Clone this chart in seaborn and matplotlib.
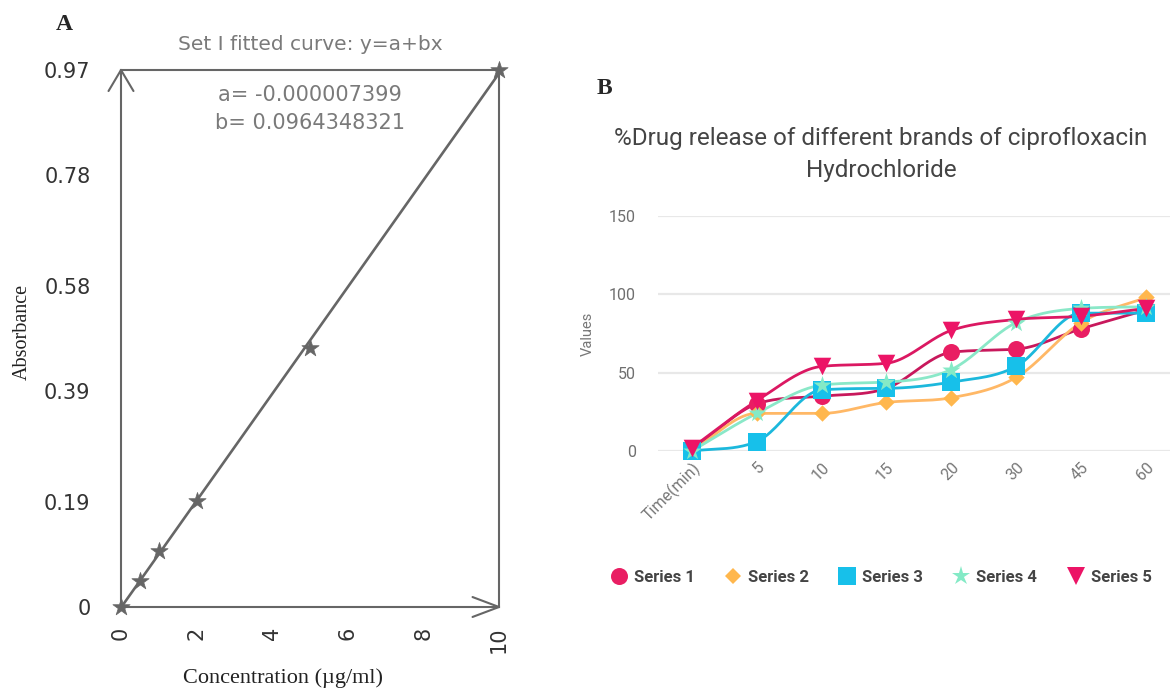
import numpy as np
import pandas as pd
import matplotlib
matplotlib.use("Agg")
import matplotlib.pyplot as plt
from matplotlib.lines import Line2D
import seaborn as sns

sns.set_theme(style="white")
plt.rcParams["font.family"] = ["DejaVu Sans"]

# ---- panel A: calibration curve ----
conc = [0, 0.5, 1, 2, 5, 10]
absorb = [0.0, 0.047, 0.102, 0.192, 0.468, 0.97]
y_ticks_a = [0, 0.19, 0.39, 0.58, 0.78, 0.97]
x_ticks_a = [0, 2, 4, 6, 8, 10]
fit_a = "-0.000007399"
fit_b = "0.0964348321"

# ---- panel B: drug release ----
times = ["Time(min)", "5", "10", "15", "20", "30", "45", "60"]
series1 = [0, 30, 35, 40, 63, 65, 78, 90]
series2 = [0, 24, 24, 31, 34, 47, 82, 98]
series3 = [0, 6, 39, 40, 44, 54, 88, 88]
series4 = [0, 24, 42, 44, 52, 82, 91, 92]
series5 = [2, 32, 54, 56, 77, 84, 86, 91]
series_names = ["Series 1", "Series 2", "Series 3", "Series 4", "Series 5"]

GRAY = "#666666"
TXT = "#7a7a7a"


def monotone(xs, ys, n=24):
    """Monotone cubic (Fritsch-Carlson) path through the points, for drawing only."""
    xs = np.asarray(xs, float)
    ys = np.asarray(ys, float)
    h = np.diff(xs)
    d = np.diff(ys) / h
    m = np.zeros_like(ys)
    m[0], m[-1] = d[0], d[-1]
    for k in range(1, len(xs) - 1):
        m[k] = 0 if d[k - 1] * d[k] <= 0 else (d[k - 1] + d[k]) / 2
    for k in range(len(d)):
        if d[k] == 0:
            m[k] = m[k + 1] = 0
            continue
        a, b = m[k] / d[k], m[k + 1] / d[k]
        s = a * a + b * b
        if s > 9:
            t = 3 / np.sqrt(s)
            m[k], m[k + 1] = t * a * d[k], t * b * d[k]
    px, py = [], []
    for k in range(len(d)):
        t = np.linspace(0, 1, n, endpoint=(k == len(d) - 1))
        h00 = 2 * t**3 - 3 * t**2 + 1
        h10 = t**3 - 2 * t**2 + t
        h01 = -2 * t**3 + 3 * t**2
        h11 = t**3 - t**2
        px.append(xs[k] + t * h[k])
        py.append(h00 * ys[k] + h10 * h[k] * m[k] + h01 * ys[k + 1] + h11 * h[k] * m[k + 1])
    return np.concatenate(px), np.concatenate(py)


W, H = 1171, 693
fig = plt.figure(figsize=(W / 100, H / 100), dpi=100)


def box(l, t, r, b):
    return [l / W, 1 - b / H, (r - l) / W, (b - t) / H]


# ================= Panel A =================
axA = fig.add_axes(box(121, 70, 499, 607))
dfA = pd.DataFrame({"conc": conc, "abs": absorb})
sns.regplot(data=dfA, x="conc", y="abs", ax=axA, ci=None, scatter=False,
            line_kws=dict(color=GRAY, lw=1.9))
sns.scatterplot(data=dfA, x="conc", y="abs", ax=axA, marker="*", s=170,
                color=GRAY, edgecolor=GRAY, linewidth=0.5, clip_on=False, zorder=5)
axA.set_xlim(0, 10)
axA.set_ylim(0, 0.97)
axA.set_xticks(x_ticks_a)
axA.set_yticks(y_ticks_a)
axA.set_yticklabels(["0", "0.19", "0.39", "0.58", "0.78", "0.97"])
axA.tick_params(axis="both", colors=GRAY, labelcolor="#333333", labelsize=15,
                length=11, width=1.5, direction="out")
axA.tick_params(axis="y", pad=11)
axA.tick_params(axis="x", length=9, pad=5)
for lbl in axA.get_xticklabels():
    lbl.set_rotation(90)
for sp in axA.spines.values():
    sp.set_color(GRAY)
    sp.set_linewidth(1.5)
axA.set_xlabel("")
axA.set_ylabel("")
# arrow heads on the axes
axA.plot([-0.33, 0, 0.33], [0.932, 0.97, 0.932], color=GRAY, lw=1.5, clip_on=False)
axA.plot([9.3, 10, 9.3], [0.018, 0, -0.018], color=GRAY, lw=1.5, clip_on=False)

fig.text(310 / W, 1 - 44 / H, "Set I fitted curve: y=a+bx", ha="center", va="center",
         fontsize=14.5, color=TXT)
fig.text(310 / W, 1 - 95 / H, f"a= {fit_a}", ha="center", va="center", fontsize=15, color=TXT)
fig.text(310 / W, 1 - 123 / H, f"b= {fit_b}", ha="center", va="center", fontsize=15, color=TXT)
fig.text(64 / W, 1 - 24 / H, "A", ha="center", va="center", fontsize=17,
         fontweight="bold", family="Liberation Serif")
fig.text(22 / W, 1 - 332 / H, "Absorbance", ha="center", va="center", rotation=90,
         fontsize=14.5, family="Liberation Serif", color="#222222")
fig.text(283 / W, 1 - 678 / H, "Concentration (\u00b5g/ml)", ha="center", va="center",
         fontsize=16, family="Liberation Serif", color="#222222")

# ================= Panel B =================
axB = fig.add_axes(box(658, 216, 1170, 451))
colors = ["#e91e63", "#ffb74d", "#17c0ea", "#84eac6", "#ec1466"]
line_colors = ["#c8185c", "#ffb866", "#1cb8dc", "#8ae8c8", "#db1862"]
markers = ["o", "D", "s", "*", "v"]
msizes = [150, 70, 150, 190, 160]
all_series = [series1, series2, series3, series4, series5]
xpos = np.arange(len(times))

rows = []
for name, vals in zip(series_names, all_series):
    sx, sy = monotone(xpos, vals)
    rows.append(pd.DataFrame({"x": sx, "y": sy, "series": name}))
curves = pd.concat(rows, ignore_index=True)
pts = pd.DataFrame({
    "x": np.tile(xpos, len(series_names)),
    "y": np.concatenate(all_series),
    "series": np.repeat(series_names, len(times)),
})

order = [1, 2, 3, 0, 4]
for i in order:
    name = series_names[i]
    sns.lineplot(data=curves[curves.series == name], x="x", y="y", ax=axB,
                 color=line_colors[i], lw=2.0, sort=False, estimator=None,
                 zorder=2 + i * 0.1, clip_on=False)
for i in order:
    name = series_names[i]
    sns.scatterplot(data=pts[pts.series == name], x="x", y="y", ax=axB,
                    marker=markers[i], s=msizes[i], color=colors[i], linewidth=0,
                    zorder=4 + i * 0.1, clip_on=False)

axB.set_xlim(-0.52, 7.37)
axB.set_ylim(0, 150)
axB.set_yticks([0, 50, 100, 150])
axB.yaxis.grid(True, color="#e8e8e8", lw=1.6)
axB.set_axisbelow(True)
for sp in axB.spines.values():
    sp.set_visible(False)
axB.set_xticks(xpos)
axB.set_xticklabels(times, rotation=45, ha="right", va="top", rotation_mode="anchor",
                    family="Roboto", fontsize=11.5, color="#777777")
axB.tick_params(axis="x", length=0, pad=6)
axB.tick_params(axis="y", length=0, pad=16, labelsize=11.5, labelcolor="#6f6f6f")
for lbl in axB.get_yticklabels():
    lbl.set_family("Roboto")
axB.set_xlabel("")
axB.set_ylabel("Values", family="Roboto", fontsize=10.5, color="#777777", labelpad=10)

fig.text(604 / W, 1 - 89 / H, "B", ha="center", va="center", fontsize=17,
         fontweight="bold", family="Liberation Serif")
fig.text(881 / W, 1 - 139 / H, "%Drug release of different brands of ciprofloxacin",
         ha="center", va="center", fontsize=17.5, family="Roboto", color="#444444")
fig.text(881 / W, 1 - 171 / H, "Hydrochloride", ha="center", va="center",
         fontsize=17.5, family="Roboto", color="#444444")

handles = [Line2D([], [], ls="none", marker=markers[i], color=colors[i],
                  markersize=np.sqrt(msizes[i]), markeredgewidth=0) for i in range(5)]
fig.legend(handles, series_names, loc="center", bbox_to_anchor=(880 / W, 1 - 577 / H),
           ncol=5, frameon=False, handletextpad=0.3, columnspacing=1.7,
           prop=dict(family="Roboto", size=12, weight="bold"),
           labelcolor="#444444", handlelength=1.2)

fig.savefig("out.png", dpi=100)
